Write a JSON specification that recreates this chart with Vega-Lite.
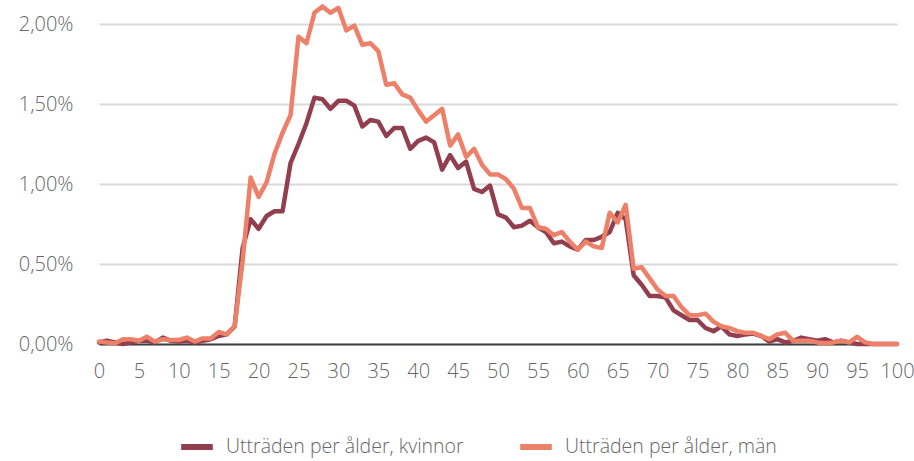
{
  "$schema": "https://vega.github.io/schema/vega-lite/v6.json",
  "autosize": {"type": "none"},
  "padding": {"left": 99, "top": 0, "right": 17, "bottom": 117},
  "width": 798,
  "height": 344,
  "background": "white",
  "config": {
    "view": {"stroke": null},
    "font": "Open Sans",
    "axis": {"labelFont": "Open Sans", "labelFontSize": 20, "labelFontWeight": 300, "labelColor": "#666666", "titleFont": "Open Sans"},
    "legend": {"labelFont": "Open Sans", "labelFontSize": 19.5, "labelFontWeight": 300, "labelColor": "#666666", "labelLimit": 0, "padding": 0}
  },
  "data": {
    "values": [
      {"age": 0, "kvinnor": 0.01, "man": 0.015},
      {"age": 1, "kvinnor": 0.02, "man": 0.01},
      {"age": 2, "kvinnor": 0.01, "man": 0.005},
      {"age": 3, "kvinnor": 0.0, "man": 0.03},
      {"age": 4, "kvinnor": 0.01, "man": 0.03},
      {"age": 5, "kvinnor": 0.02, "man": 0.02},
      {"age": 6, "kvinnor": 0.02, "man": 0.045},
      {"age": 7, "kvinnor": 0.01, "man": 0.015},
      {"age": 8, "kvinnor": 0.04, "man": 0.03},
      {"age": 9, "kvinnor": 0.02, "man": 0.025},
      {"age": 10, "kvinnor": 0.015, "man": 0.025},
      {"age": 11, "kvinnor": 0.02, "man": 0.04},
      {"age": 12, "kvinnor": 0.01, "man": 0.015},
      {"age": 13, "kvinnor": 0.02, "man": 0.035},
      {"age": 14, "kvinnor": 0.03, "man": 0.035},
      {"age": 15, "kvinnor": 0.05, "man": 0.075},
      {"age": 16, "kvinnor": 0.06, "man": 0.06},
      {"age": 17, "kvinnor": 0.11, "man": 0.11},
      {"age": 18, "kvinnor": 0.6, "man": 0.52},
      {"age": 19, "kvinnor": 0.78, "man": 1.04},
      {"age": 20, "kvinnor": 0.72, "man": 0.92},
      {"age": 21, "kvinnor": 0.8, "man": 1.01},
      {"age": 22, "kvinnor": 0.83, "man": 1.19},
      {"age": 23, "kvinnor": 0.83, "man": 1.32},
      {"age": 24, "kvinnor": 1.13, "man": 1.43},
      {"age": 25, "kvinnor": 1.25, "man": 1.92},
      {"age": 26, "kvinnor": 1.38, "man": 1.88},
      {"age": 27, "kvinnor": 1.54, "man": 2.07},
      {"age": 28, "kvinnor": 1.53, "man": 2.11},
      {"age": 29, "kvinnor": 1.47, "man": 2.07},
      {"age": 30, "kvinnor": 1.52, "man": 2.1},
      {"age": 31, "kvinnor": 1.52, "man": 1.96},
      {"age": 32, "kvinnor": 1.49, "man": 1.99},
      {"age": 33, "kvinnor": 1.36, "man": 1.87},
      {"age": 34, "kvinnor": 1.4, "man": 1.88},
      {"age": 35, "kvinnor": 1.39, "man": 1.83},
      {"age": 36, "kvinnor": 1.3, "man": 1.62},
      {"age": 37, "kvinnor": 1.35, "man": 1.63},
      {"age": 38, "kvinnor": 1.35, "man": 1.56},
      {"age": 39, "kvinnor": 1.22, "man": 1.54},
      {"age": 40, "kvinnor": 1.27, "man": 1.46},
      {"age": 41, "kvinnor": 1.29, "man": 1.39},
      {"age": 42, "kvinnor": 1.26, "man": 1.43},
      {"age": 43, "kvinnor": 1.09, "man": 1.47},
      {"age": 44, "kvinnor": 1.18, "man": 1.24},
      {"age": 45, "kvinnor": 1.1, "man": 1.31},
      {"age": 46, "kvinnor": 1.14, "man": 1.17},
      {"age": 47, "kvinnor": 0.97, "man": 1.22},
      {"age": 48, "kvinnor": 0.95, "man": 1.12},
      {"age": 49, "kvinnor": 0.99, "man": 1.06},
      {"age": 50, "kvinnor": 0.81, "man": 1.06},
      {"age": 51, "kvinnor": 0.79, "man": 1.03},
      {"age": 52, "kvinnor": 0.73, "man": 0.97},
      {"age": 53, "kvinnor": 0.74, "man": 0.85},
      {"age": 54, "kvinnor": 0.77, "man": 0.85},
      {"age": 55, "kvinnor": 0.73, "man": 0.73},
      {"age": 56, "kvinnor": 0.7, "man": 0.72},
      {"age": 57, "kvinnor": 0.63, "man": 0.68},
      {"age": 58, "kvinnor": 0.64, "man": 0.7},
      {"age": 59, "kvinnor": 0.61, "man": 0.64},
      {"age": 60, "kvinnor": 0.59, "man": 0.59},
      {"age": 61, "kvinnor": 0.65, "man": 0.64},
      {"age": 62, "kvinnor": 0.65, "man": 0.61},
      {"age": 63, "kvinnor": 0.67, "man": 0.6},
      {"age": 64, "kvinnor": 0.7, "man": 0.82},
      {"age": 65, "kvinnor": 0.82, "man": 0.76},
      {"age": 66, "kvinnor": 0.78, "man": 0.87},
      {"age": 67, "kvinnor": 0.43, "man": 0.47},
      {"age": 68, "kvinnor": 0.37, "man": 0.48},
      {"age": 69, "kvinnor": 0.3, "man": 0.41},
      {"age": 70, "kvinnor": 0.3, "man": 0.34},
      {"age": 71, "kvinnor": 0.29, "man": 0.3},
      {"age": 72, "kvinnor": 0.21, "man": 0.3},
      {"age": 73, "kvinnor": 0.18, "man": 0.23},
      {"age": 74, "kvinnor": 0.15, "man": 0.18},
      {"age": 75, "kvinnor": 0.15, "man": 0.18},
      {"age": 76, "kvinnor": 0.1, "man": 0.19},
      {"age": 77, "kvinnor": 0.08, "man": 0.14},
      {"age": 78, "kvinnor": 0.11, "man": 0.11},
      {"age": 79, "kvinnor": 0.06, "man": 0.1},
      {"age": 80, "kvinnor": 0.05, "man": 0.08},
      {"age": 81, "kvinnor": 0.06, "man": 0.07},
      {"age": 82, "kvinnor": 0.065, "man": 0.07},
      {"age": 83, "kvinnor": 0.05, "man": 0.05},
      {"age": 84, "kvinnor": 0.015, "man": 0.03},
      {"age": 85, "kvinnor": 0.03, "man": 0.06},
      {"age": 86, "kvinnor": 0.01, "man": 0.07},
      {"age": 87, "kvinnor": 0.02, "man": 0.02},
      {"age": 88, "kvinnor": 0.04, "man": 0.02},
      {"age": 89, "kvinnor": 0.03, "man": 0.02},
      {"age": 90, "kvinnor": 0.02, "man": 0.01},
      {"age": 91, "kvinnor": 0.03, "man": 0.005},
      {"age": 92, "kvinnor": 0.01, "man": 0.01},
      {"age": 93, "kvinnor": 0.02, "man": 0.02},
      {"age": 94, "kvinnor": 0.01, "man": 0.01},
      {"age": 95, "kvinnor": 0.0, "man": 0.045},
      {"age": 96, "kvinnor": 0.0, "man": 0.01},
      {"age": 97, "kvinnor": 0.0, "man": 0.0},
      {"age": 98, "kvinnor": 0.0, "man": 0.0},
      {"age": 99, "kvinnor": 0.0, "man": 0.0},
      {"age": 100, "kvinnor": 0.0, "man": 0.0}
    ]
  },
  "transform": [{"fold": ["kvinnor", "man"], "as": ["serie", "value"]}],
  "mark": {"type": "line", "strokeWidth": 4.5, "strokeCap": "round", "strokeJoin": "round", "clip": false},
  "encoding": {
    "x": {
      "field": "age",
      "type": "quantitative",
      "scale": {"domain": [0, 100], "nice": false, "zero": false},
      "axis": {
        "title": null,
        "values": [0, 5, 10, 15, 20, 25, 30, 35, 40, 45, 50, 55, 60, 65, 70, 75, 80, 85, 90, 95, 100],
        "grid": false,
        "ticks": false,
        "domain": true,
        "domainColor": "#404040",
        "domainWidth": 2,
        "labelPadding": 17,
        "labelOverlap": false,
        "labelFlush": false
      }
    },
    "y": {
      "field": "value",
      "type": "quantitative",
      "scale": {"domain": [0, 2.15], "nice": false},
      "axis": {
        "title": null,
        "values": [0, 0.5, 1, 1.5, 2],
        "domain": false,
        "ticks": false,
        "grid": true,
        "gridColor": "#d9d9d9",
        "gridWidth": 2,
        "labelPadding": 26,
        "labelExpr": "replace(format(datum.value, '.2f'), '.', ',') + '%'"
      }
    },
    "color": {
      "field": "serie",
      "type": "nominal",
      "scale": {"domain": ["kvinnor", "man"], "range": ["#913e4e", "#ec8068"]},
      "legend": {
        "title": null,
        "orient": "none",
        "direction": "horizontal",
        "legendX": 79,
        "legendY": 428,
        "symbolType": "stroke",
        "symbolStrokeWidth": 6,
        "symbolSize": 1000,
        "labelOffset": 10,
        "labelLimit": 0,
        "columnPadding": 44,
        "labelExpr": "datum.label == 'kvinnor' ? 'Utträden per ålder, kvinnor' : 'Utträden per ålder, män'"
      }
    }
  }
}
